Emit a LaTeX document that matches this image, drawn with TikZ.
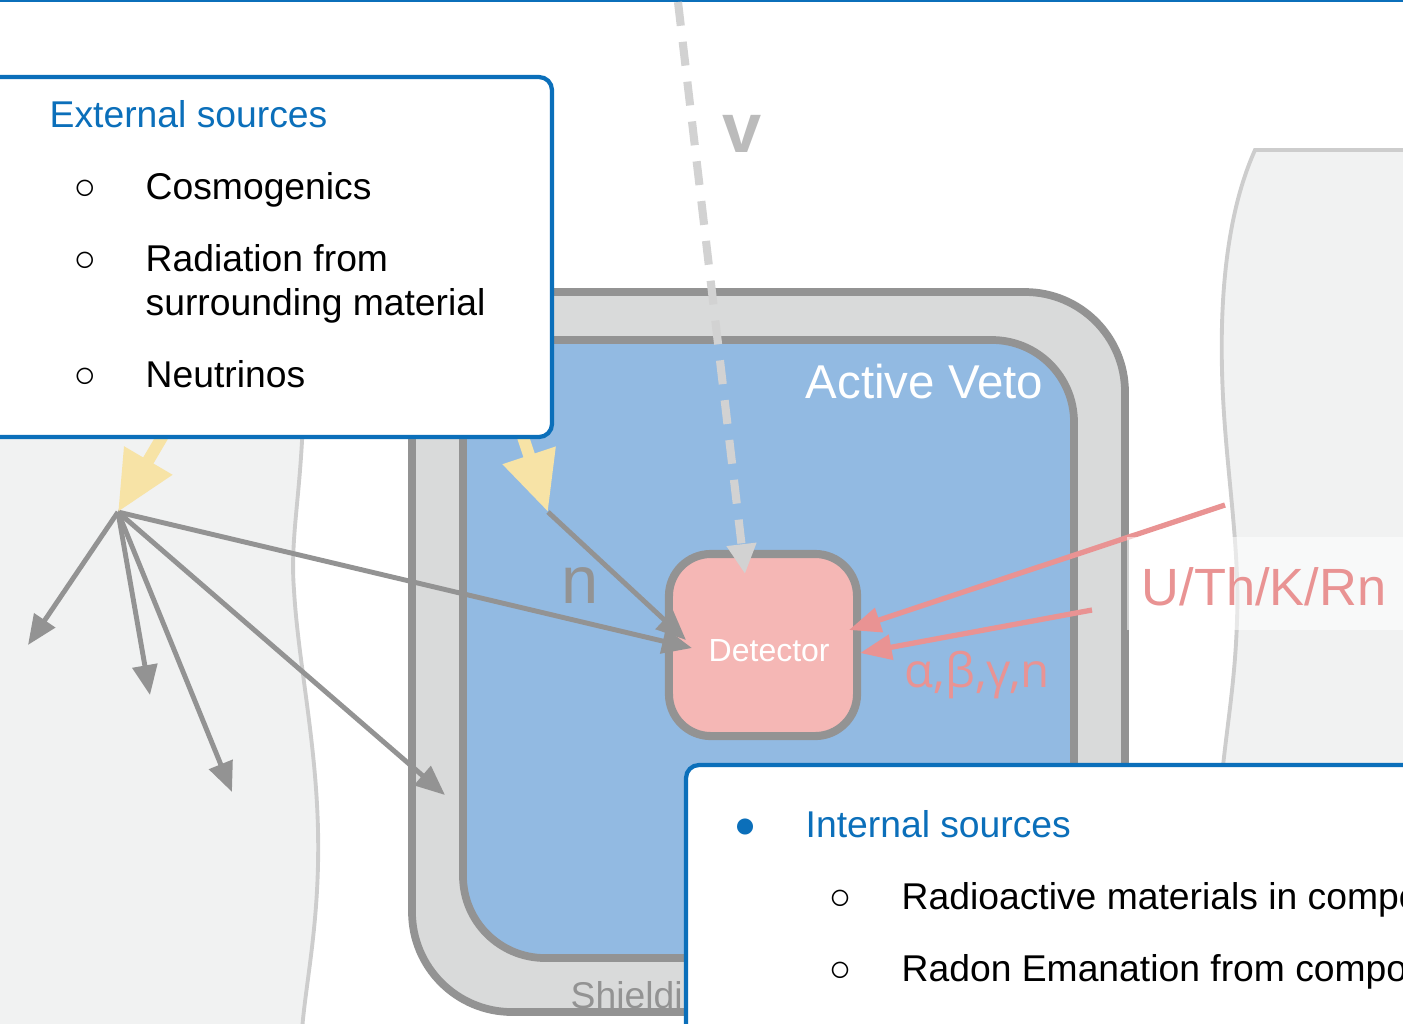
\documentclass[tikz,border=0pt]{standalone}
\usepackage{fontspec}
\setmainfont{Liberation Sans}
\newfontfamily\greekfont{Open Sans}
\usetikzlibrary{arrows.meta}

\definecolor{srcblue}{HTML}{0B6FBA}
\definecolor{rockfill}{HTML}{F1F2F2}
\definecolor{rockedge}{HTML}{CDCDCD}
\definecolor{shieldfill}{HTML}{D9DADA}
\definecolor{wallgray}{HTML}{939393}
\definecolor{vetoblue}{HTML}{92BAE2}
\definecolor{detpink}{HTML}{F5B7B5}
\definecolor{radpink}{HTML}{E99393}
\definecolor{cosmoyellow}{HTML}{F7E3A6}
\definecolor{nugray}{HTML}{D2D2D2}
\definecolor{nutext}{HTML}{BBBBBB}

\tikzset{
  txt/.style={anchor=base west, inner sep=0pt},
  bul/.style={anchor=base, inner sep=0pt},
  listfont/.style={font=\fontsize{10.6}{12}\selectfont},
  srcbox/.style={draw=srcblue, line width=1.2pt, fill=white, rounded corners=0.13cm},
  wall/.style={draw=wallgray, line width=2.2pt},
  grayarrow/.style={draw=wallgray, line width=1.4pt, -{Triangle[length=8.5pt,width=7pt]}},
  yellowarrow/.style={draw=cosmoyellow, line width=3.4pt, -{Triangle[length=17pt,width=15pt]}},
  pinkarrow/.style={draw=radpink, line width=1.5pt, -{Triangle[length=9pt,width=7pt]}},
  nuarrow/.style={draw=nugray, line width=2.3pt, dash pattern=on 6.8pt off 4.6pt,
    -{Triangle[length=8.5pt,width=8pt]}},
}

\begin{document}
\begin{tikzpicture}[x=0.01cm,y=-0.01cm]  % ------ 1 unit = 1 px ------
  \useasboundingbox (0,0) rectangle (1403,1023);
  \clip (0,0) rectangle (1403,1023);

  \coordinate (hitL) at (118,512);   % cosmic hit in the rock
  \coordinate (hitS) at (548,512);   % cosmic hit in the shield
  \coordinate (cosL) at (178,410);
  \coordinate (cosS) at (514,410);
  \coordinate (sec1) at (28,645);
  \coordinate (sec2) at (150,695);
  \coordinate (sec3) at (232,792);
  \coordinate (sec4) at (445,795);
  \coordinate (detA) at (692,648);
  \coordinate (detB) at (686,640);
  \coordinate (nuS) at (678,2);
  \coordinate (nuE) at (745,574);
  \coordinate (radA) at (1225,505);
  \coordinate (radB) at (1092,610);
  \coordinate (detC) at (849,630);
  \coordinate (detD) at (860,653);

  \draw[srcblue, line width=0.7pt] (0,1) -- (1403,1);

  % rocks
  \fill[rockfill] (-10,420) -- (303,420) .. controls (300,500) and (290,540) .. (294,590)
     .. controls (298,660) and (316,740) .. (318,830) .. controls (320,920) and (306,980) .. (302,1030)
     -- (-10,1030) -- cycle;
  \draw[rockedge, line width=1.1pt] (303,420) .. controls (300,500) and (290,540) .. (294,590)
     .. controls (298,660) and (316,740) .. (318,830) .. controls (320,920) and (306,980) .. (302,1030);
  \fill[rockfill] (1410,150) -- (1255,150) .. controls (1228,210) and (1220,290) .. (1222,370)
     .. controls (1224,460) and (1240,540) .. (1237,620) .. controls (1235,690) and (1224,740) .. (1220,800)
     -- (1410,800) -- cycle;
  \draw[rockedge, line width=1.1pt] (1410,150) -- (1255,150) .. controls (1228,210) and (1220,290) .. (1222,370)
     .. controls (1224,460) and (1240,540) .. (1237,620) .. controls (1235,690) and (1224,740) .. (1220,800);

  % shield, veto, detector
  \draw[wall, fill=shieldfill, rounded corners=1.0cm] (412,292) rectangle (1125,1012);
  \draw[wall, fill=vetoblue, rounded corners=0.82cm] (463,340) rectangle (1074,958);
  \node[draw=wallgray, line width=2.3pt, fill=detpink, rounded corners=0.42cm,
        minimum width=1.88cm, minimum height=1.82cm, inner sep=0pt] (det) at (763,645) {};
  \node[txt, text=white, font=\fontsize{9.1}{11}\selectfont] (detlab) at (708,661) {Detector};

  \node[txt, text=white, font=\fontsize{13.5}{16}\selectfont] (veto) at (805,398) {Active Veto};
  \node[txt, text=wallgray, listfont] (shield) at (570,1008) {Shieldi};
  \node[txt, text=wallgray, font=\fontsize{19}{22}\selectfont] (nlab) at (561,603) {n};
  \node[txt, text=radpink, font=\greekfont\fontsize{13.5}{16}\selectfont] (alab) at (904,687) {α,β,γ,n};
  \node[txt, text=nutext, font=\bfseries\fontsize{20}{24}\selectfont] (nulab) at (722,152) {v};

  % particles
  \foreach \s in {sec1,sec2,sec3,sec4,detA} \draw[grayarrow] (hitL) -- (\s);
  \draw[grayarrow] (hitS) -- (detB);
  \draw[yellowarrow] (cosL) -- (hitL);
  \draw[yellowarrow] (cosS) -- (hitS);
  \draw[pinkarrow] (radA) -- (detC);
  \draw[pinkarrow] (radB) -- (detD);
  \draw[nuarrow] (nuS) -- (nuE);

  \fill[white, opacity=0.55] (1127,537) rectangle (1410,630);
  \node[txt, text=radpink, font=\fontsize{14.9}{18}\selectfont] (uthk) at (1141,605) {U/Th/K/Rn};

  % external sources
  \draw[srcbox] (-20,77) rectangle (552,437);
  \node[txt, text=srcblue, listfont] (ext) at (49,127) {External sources};
  \foreach \y/\t in {199/Cosmogenics, 271/Radiation from, 315/surrounding material, 387/Neutrinos}
    \node[txt, listfont] at (145,\y) {\t};
  \foreach \y in {199,271,387} \node[bul, listfont] at (85,\y) {○};

  % internal sources
  \draw[srcbox] (686,765) rectangle (1450,1080);
  \node[bul, text=srcblue, listfont] (dot) at (745,837) {●};
  \node[txt, text=srcblue, listfont] (int) at (805,837) {Internal sources};
  \node[bul, listfont] at (840,909) {○};
  \node[bul, listfont] at (840,981) {○};
  \node[txt, listfont] (mat) at (901,909) {Radioactive materials in compo};
  \node[txt, listfont] (rad) at (901,981) {Radon Emanation from compo};
\end{tikzpicture}
\end{document}
